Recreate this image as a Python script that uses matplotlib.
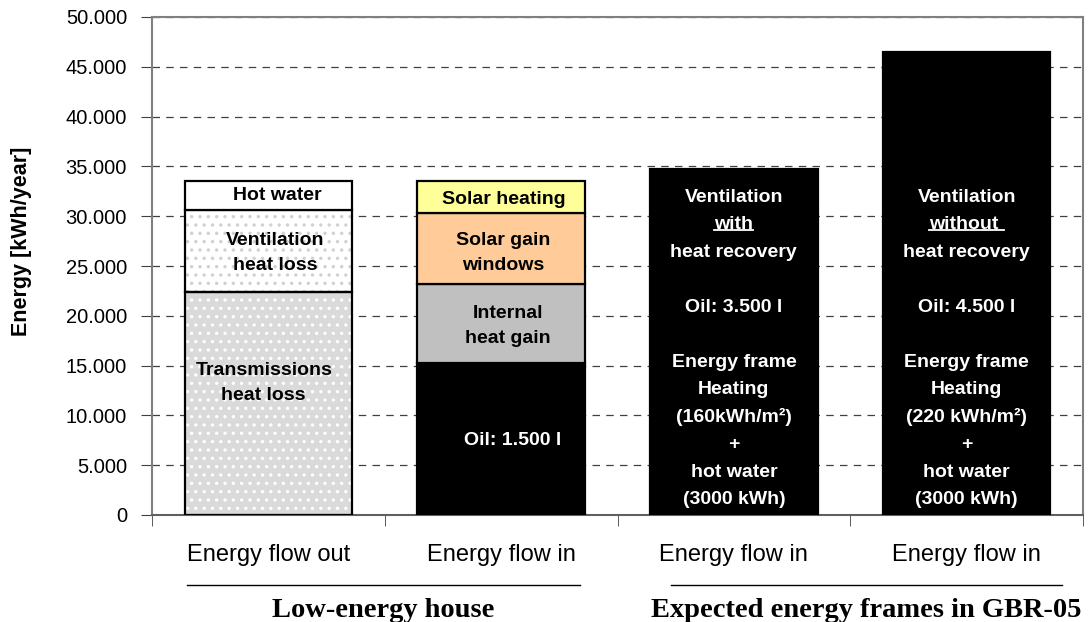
import matplotlib
matplotlib.use('Agg')
import matplotlib.pyplot as plt
import matplotlib.ticker as mticker
from matplotlib.lines import Line2D
import numpy as np

plt.rcParams['font.family'] = ['Liberation Sans', 'DejaVu Sans']
plt.rcParams['hatch.linewidth'] = 1.2

categories = ['Energy flow out', 'Energy flow in', 'Energy flow in', 'Energy flow in']
groups = ['Low-energy house', 'Expected energy frames in GBR-05']

# stacked segments, bottom to top (kWh/year)
out_segments = ['Transmissions\nheat loss', 'Ventilation\nheat loss', 'Hot water']
out_values = [22400, 8200, 2900]

in_segments = ['Oil: 1.500 l', 'Internal\nheat gain', 'Solar gain\nwindows', 'Solar heating']
in_values = [15300, 7900, 7100, 3200]

frame_totals = [34700, 46500]
frame_texts = [
    ['Ventilation', 'with', 'heat recovery', '', 'Oil: 3.500 l', '',
     'Energy frame', 'Heating', '(160kWh/m²)', '+', 'hot water', '(3000 kWh)'],
    ['Ventilation', 'without ', 'heat recovery', '', 'Oil: 4.500 l', '',
     'Energy frame', 'Heating', '(220 kWh/m²)', '+', 'hot water', '(3000 kWh)'],
]

# label anchors inside the stacked bars (x shift, y in kWh)
out_text_dx = [-0.02, 0.03, 0.04]
out_text_y = [13250, 26300, 32050]
in_text_dx = [0.05, 0.03, 0.01, 0.01]
in_text_y = [7500, 19000, 26300, 31700]

fig = plt.figure(figsize=(10.89, 6.22), dpi=100)
ax = fig.add_axes([152 / 1089, 1 - 515 / 622, (1083 - 152) / 1089, (515 - 17) / 622])

x = np.arange(len(categories))
w = 0.72
fs = 14


def seg(xpos, bottom, height, face, hatch=None, hatch_col='white'):
    if hatch:
        ax.bar(xpos, height, w, bottom=bottom, color=face, edgecolor=hatch_col,
               hatch=hatch, linewidth=0, zorder=2)
        ax.bar(xpos, height, w, bottom=bottom, fill=False, edgecolor='black',
               linewidth=1.6, zorder=3)
    else:
        ax.bar(xpos, height, w, bottom=bottom, color=face, edgecolor='black',
               linewidth=1.6, zorder=3)


# energy flow out
out_styles = [('#dadada', '..', 'white'), ('white', '..', '#d0d0d0'), ('white', None, None)]
bottom = 0
for label, v, (fc, h, hc), dx, ty in zip(out_segments, out_values, out_styles,
                                         out_text_dx, out_text_y):
    seg(x[0], bottom, v, fc, h, hc)
    ax.text(x[0] + dx, ty, label, ha='center', va='center', fontsize=fs,
            fontweight='bold', linespacing=1.6, zorder=4)
    bottom += v

# energy flow in
in_colors = ['black', '#c0c0c0', '#ffcc99', '#ffff99']
bottom = 0
for label, v, fc, dx, ty in zip(in_segments, in_values, in_colors, in_text_dx, in_text_y):
    seg(x[1], bottom, v, fc)
    ax.text(x[1] + dx, ty, label, ha='center', va='center', fontsize=fs,
            fontweight='bold', linespacing=1.6,
            color='white' if fc == 'black' else 'black', zorder=4)
    bottom += v

ax.set_xlim(-0.5, 3.5)
ax.set_ylim(0, 50000)

# expected energy frames
fig.canvas.draw()
for xi, total, lines in zip(x[2:], frame_totals, frame_texts):
    seg(xi, 0, total, 'black')
    for i, line in enumerate(lines):
        t = ax.text(xi, 31900 - i * 2760, line, ha='center', va='center', fontsize=fs,
                    fontweight='bold', color='white', zorder=4)
        if line.strip() in ('with', 'without'):
            fig.canvas.draw()
            bb = t.get_window_extent().transformed(ax.transData.inverted())
            ax.plot([bb.x0, bb.x1], [bb.y0 + 0.22 * (bb.y1 - bb.y0)] * 2,
                    color='white', lw=1.3, zorder=5)

ax.yaxis.set_major_locator(mticker.MultipleLocator(5000))
ax.yaxis.set_major_formatter(mticker.FuncFormatter(
    lambda v, p: '0' if v == 0 else f'{int(v):,}'.replace(',', '.')))
ax.yaxis.grid(True, linestyle=(0, (6, 5)), color='#404040', linewidth=0.9, zorder=0)
ax.set_axisbelow(True)

ax.set_xticks(x)
ax.set_xticklabels(categories, fontsize=17)
ax.tick_params(axis='x', which='major', length=0, pad=21)
ax.set_xticks(np.arange(-0.5, 4.0, 1.0), minor=True)
ax.tick_params(axis='x', which='minor', length=8, color='#404040', direction='out')
ax.tick_params(axis='y', labelsize=14.5, length=8, color='#404040', pad=10)

for s in ax.spines.values():
    s.set_color('#808080')
    s.set_linewidth(1.5)
ax.spines['bottom'].set_color('#606060')

ax.set_ylabel('Energy [kWh/year]', fontsize=15.5, fontweight='bold')
ax.yaxis.set_label_coords(-120 / 931, (515 - 241) / 498)

# group underlines and titles below the category labels
trans = ax.get_xaxis_transform()
for x0, x1, name in [(-0.35, 1.34, groups[0]), (1.73, 3.41, groups[1])]:
    ax.add_line(Line2D([x0, x1], [-70 / 498] * 2, transform=trans, color='black',
                       lw=1.0, clip_on=False))
    ax.text((x0 + x1) / 2, -102 / 498, name, transform=trans, ha='center', va='baseline',
            fontsize=20.5, fontweight='bold', family='Liberation Serif', clip_on=False)

fig.savefig('out.png', dpi=100)
